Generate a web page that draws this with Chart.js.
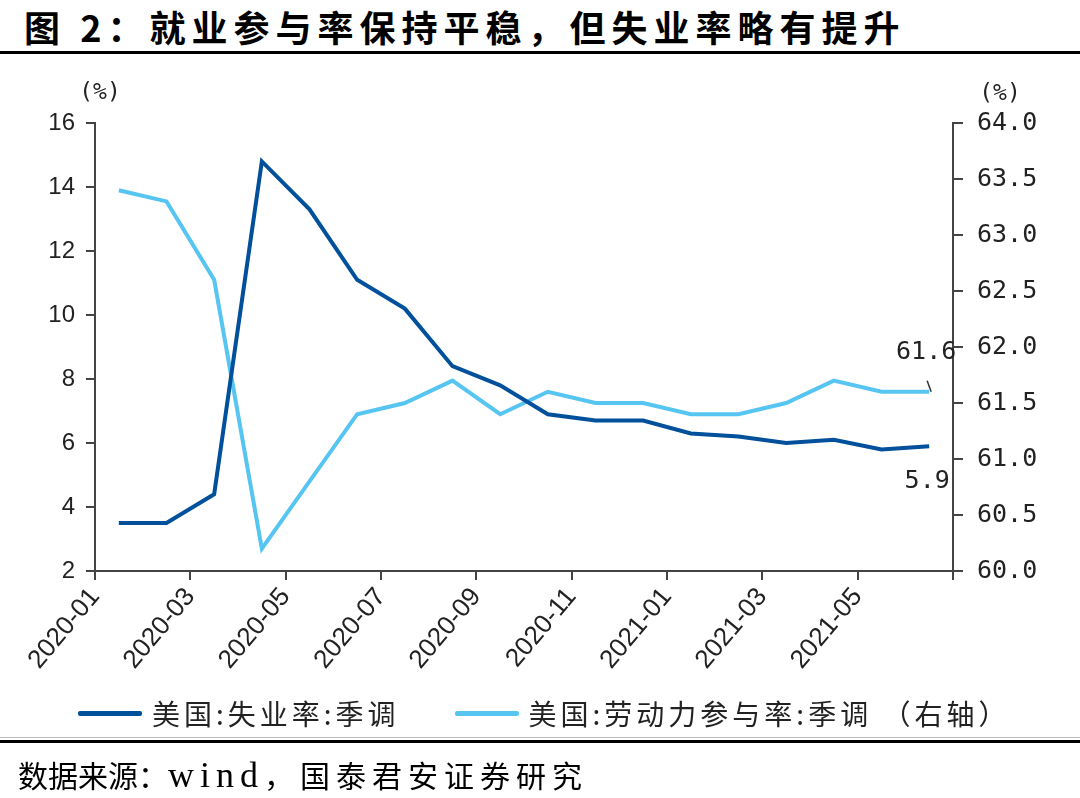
<!DOCTYPE html>
<html>
<head>
<meta charset="utf-8">
<script src="https://cdn.jsdelivr.net/npm/chart.js@4"></script>
<style>
  html, body { margin: 0; padding: 0; background: #fff; }
  #wrap { position: relative; width: 1080px; height: 798px; overflow: hidden; }
  #graf { position: absolute; left: 0; top: 0; }
  .titulo { position: absolute; left: 24px; top: 0; line-height: 44px; font: bold 36px "Noto Sans CJK SC", sans-serif; letter-spacing: 6px; color: #000; white-space: nowrap; }
  .linea1 { position: absolute; left: 0; top: 51px; width: 1080px; height: 3px; background: #000; }
  .linea2 { position: absolute; left: 0; top: 737px; width: 1080px; height: 1px; background: #bbb; }
  .linea3 { position: absolute; left: 0; top: 740px; width: 1080px; height: 3px; background: #000; }
  .fuente { position: absolute; left: 18px; top: 752px; line-height: 40px; font: 30px "Liberation Serif", "Noto Sans CJK SC", serif; color: #000; white-space: nowrap; }
  .fuente .lat { font-size: 36px; letter-spacing: 6px; }
  .fuente .resto { letter-spacing: 6px; }
  #leyenda { position: absolute; top: 694px; left: 78px; height: 38px; display: flex; align-items: center; font: 28px "Noto Sans CJK SC", sans-serif; letter-spacing: 4px; color: #222; white-space: nowrap; }
  #leyenda .item { display: flex; align-items: center; margin-right: 55px; }
  #leyenda .muestra { width: 64px; height: 5px; margin-right: 10px; border-radius: 2px; }
</style>
</head>
<body>
<div id="wrap">
  <div class="titulo">图 2：就业参与率保持平稳，但失业率略有提升</div>
  <div class="linea1"></div>
  <canvas id="graf" width="1080" height="798"></canvas>
  <div id="leyenda"></div>
  <div class="linea2"></div>
  <div class="linea3"></div>
  <div class="fuente">数据来源：<span class="lat">wind</span><span class="resto">，国泰君安证券研究</span></div>
</div>
<script>
const meses = ['2020-01', '2020-02', '2020-03', '2020-04', '2020-05', '2020-06', '2020-07', '2020-08', '2020-09',
               '2020-10', '2020-11', '2020-12', '2021-01', '2021-02', '2021-03', '2021-04', '2021-05', '2021-06'];
const etiquetasX = ['2020-01', '2020-03', '2020-05', '2020-07', '2020-09', '2020-11', '2021-01', '2021-03', '2021-05'];
const desempleo = [3.5, 3.5, 4.4, 14.8, 13.3, 11.1, 10.2, 8.4, 7.8, 6.9, 6.7, 6.7, 6.3, 6.2, 6.0, 6.1, 5.8, 5.9];
const participacion = [63.4, 63.3, 62.6, 60.2, 60.8, 61.4, 61.5, 61.7, 61.4, 61.6, 61.5, 61.5, 61.4, 61.4, 61.5, 61.7, 61.6, 61.6];
const nombres = ['美国:失业率:季调', '美国:劳动力参与率:季调 （右轴）'];
const colores = ['#00509b', '#56c5f1'];

const ejeColor = '#444';
const fuenteMono = '"DejaVu Sans Mono", monospace';

// etiquetas "(%)" y valores finales
const anotaciones = {
    id: 'anotaciones',
    afterDatasetsDraw(chart) {
        const ctx = chart.ctx;
        const area = chart.chartArea;
        ctx.save();
        ctx.fillStyle = '#222';
        ctx.font = '23px ' + fuenteMono;
        ctx.textAlign = 'center';
        ctx.textBaseline = 'middle';
        ctx.fillText('(%)', area.left + 5, 93);
        ctx.fillText('(%)', area.right + 47, 94);

        ctx.font = '25px ' + fuenteMono;
        const p1 = chart.getDatasetMeta(0).data[desempleo.length - 1];
        const p2 = chart.getDatasetMeta(1).data[participacion.length - 1];
        ctx.fillText(participacion[participacion.length - 1].toFixed(1), p2.x - 3, p2.y - 39);
        ctx.fillText(desempleo[desempleo.length - 1].toFixed(1), p1.x - 2, p1.y + 35);

        ctx.strokeStyle = '#333';
        ctx.lineWidth = 1.5;
        ctx.beginPath();
        ctx.moveTo(p2.x - 2, p2.y - 11);
        ctx.lineTo(p2.x + 2, p2.y);
        ctx.stroke();
        ctx.restore();
    }
};

function crearGrafico() {
    const ctx = document.getElementById('graf').getContext('2d');
    new Chart(ctx, {
        type: 'line',
        data: {
            datasets: [{
                label: nombres[0],
                data: desempleo.map((v, i) => ({ x: i + 0.5, y: v })),
                borderColor: colores[0],
                backgroundColor: colores[0],
                borderWidth: 4,
                pointRadius: 0,
                tension: 0,
                yAxisID: 'y'
            }, {
                label: nombres[1],
                data: participacion.map((v, i) => ({ x: i + 0.5, y: v })),
                borderColor: colores[1],
                backgroundColor: colores[1],
                borderWidth: 4,
                pointRadius: 0,
                tension: 0,
                yAxisID: 'y1'
            }]
        },
        options: {
            responsive: false,
            animation: false,
            layout: {
                padding: { top: 123, bottom: 107, left: 0, right: 0 }
            },
            plugins: {
                legend: { display: false },
                tooltip: { enabled: false }
            },
            scales: {
                x: {
                    type: 'linear',
                    min: 0,
                    max: meses.length,
                    afterFit: (scale) => { scale.height = 120; },
                    afterBuildTicks: (scale) => {
                        scale.ticks = [];
                        for (let i = 0; i <= meses.length; i += 2) scale.ticks.push({ value: i });
                    },
                    ticks: {
                        autoSkip: false,
                        minRotation: 50,
                        maxRotation: 50,
                        padding: 2,
                        color: '#222',
                        font: { family: '"Liberation Sans", Arial, sans-serif', size: 26 },
                        callback: (v) => etiquetasX[v / 2] || ''
                    },
                    grid: { drawOnChartArea: false, drawTicks: true, tickLength: 9, color: ejeColor, lineWidth: 2 },
                    border: { display: true, color: ejeColor, width: 2 }
                },
                y: {
                    position: 'left',
                    min: 2,
                    max: 16,
                    afterFit: (scale) => { scale.width = 95; },
                    ticks: {
                        stepSize: 2,
                        padding: 11,
                        color: '#222',
                        font: { family: '"Liberation Sans", Arial, sans-serif', size: 24 }
                    },
                    grid: { drawOnChartArea: false, drawTicks: true, tickLength: 9, color: ejeColor, lineWidth: 2 },
                    border: { display: true, color: ejeColor, width: 2 }
                },
                y1: {
                    position: 'right',
                    min: 60,
                    max: 64,
                    afterFit: (scale) => { scale.width = 127; },
                    ticks: {
                        stepSize: 0.5,
                        padding: 14,
                        color: '#222',
                        font: { family: fuenteMono, size: 25 },
                        callback: (v) => v.toFixed(1)
                    },
                    grid: { drawOnChartArea: false, drawTicks: true, tickLength: 10, color: ejeColor, lineWidth: 2 },
                    border: { display: true, color: ejeColor, width: 2 }
                }
            }
        },
        plugins: [anotaciones]
    });

    // leyenda en html
    const ley = document.getElementById('leyenda');
    nombres.forEach((n, i) => {
        const item = document.createElement('div');
        item.className = 'item';
        item.innerHTML = '<span class="muestra" style="background:' + colores[i] + '"></span><span>' + n + '</span>';
        ley.appendChild(item);
    });
}

document.addEventListener('DOMContentLoaded', () => {
    crearGrafico();
});
</script>
</body>
</html>
